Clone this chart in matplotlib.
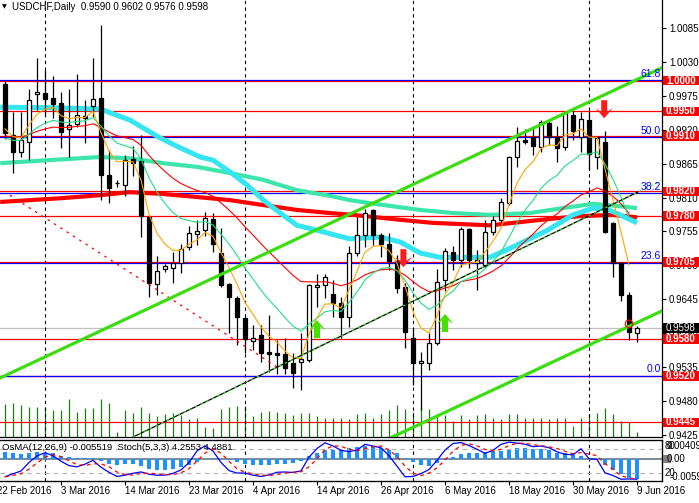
import matplotlib.pyplot as plt
import numpy as np
from matplotlib.patches import Polygon, Rectangle
from matplotlib.transforms import blended_transform_factory

plt.rcParams['font.family'] = ['Liberation Sans', 'DejaVu Sans']

symbol = "USDCHF,Daily"

# daily bars, 23 Feb 2016 .. 9 Jun 2016 (bar 0 .. 79)
opens = [0.9994, 0.9912, 0.9884, 0.9900, 0.9978, 0.9980, 0.9972, 0.9964, 0.9921, 0.9930,
         0.9942, 0.9959, 0.9972, 0.9847, 0.9834, 0.9830, 0.9873, 0.9869, 0.9778, 0.9670,
         0.9694, 0.9696, 0.9704, 0.9730, 0.9751, 0.9757, 0.9775, 0.9720, 0.9670, 0.9647,
         0.9614, 0.9577, 0.9587, 0.9559, 0.9557, 0.9556, 0.9541, 0.9543, 0.9546, 0.9665,
         0.9668, 0.9653, 0.9639, 0.9616, 0.9720, 0.9749, 0.9790, 0.9749, 0.9735, 0.9707,
         0.9665, 0.9582, 0.9542, 0.9541, 0.9574, 0.9676, 0.9722, 0.9709, 0.9759, 0.9704,
         0.9700, 0.9754, 0.9774, 0.9801, 0.9876, 0.9904, 0.9908, 0.9892, 0.9931, 0.9908,
         0.9892, 0.9944, 0.9908, 0.9936, 0.9876, 0.9900, 0.9769, 0.9704, 0.9652, 0.9590]
highs = [0.9999, 0.9949, 0.9949, 0.9986, 1.0037, 1.0017, 1.0008, 0.9982, 0.9986, 1.0011,
         0.9969, 1.0037, 1.0090, 0.9887, 0.9839, 0.9879, 0.9894, 0.9912, 0.9782, 0.9715,
         0.9703, 0.9722, 0.9735, 0.9764, 0.9774, 0.9787, 0.9785, 0.9761, 0.9671, 0.9650,
         0.9616, 0.9603, 0.9603, 0.9619, 0.9579, 0.9582, 0.9557, 0.9590, 0.9670, 0.9686,
         0.9686, 0.9676, 0.9648, 0.9731, 0.9778, 0.9791, 0.9791, 0.9752, 0.9752, 0.9717,
         0.9671, 0.9598, 0.9559, 0.9590, 0.9694, 0.9728, 0.9731, 0.9762, 0.9761, 0.9725,
         0.9774, 0.9780, 0.9809, 0.9878, 0.9925, 0.9921, 0.9925, 0.9936, 0.9936, 0.9926,
         0.9949, 0.9951, 0.9949, 0.9951, 0.9908, 0.9918, 0.9770, 0.9705, 0.9657, 0.9602]
lows = [0.9905, 0.9850, 0.9876, 0.9871, 0.9952, 0.9944, 0.9939, 0.9891, 0.9876, 0.9925,
        0.9899, 0.9941, 0.9806, 0.9801, 0.9827, 0.9813, 0.9845, 0.9746, 0.9648, 0.9652,
        0.9689, 0.9671, 0.9687, 0.9725, 0.9733, 0.9748, 0.9722, 0.9665, 0.9590, 0.9570,
        0.9557, 0.9562, 0.9543, 0.9527, 0.9523, 0.9523, 0.9501, 0.9497, 0.9543, 0.9632,
        0.9647, 0.9616, 0.9582, 0.9600, 0.9715, 0.9730, 0.9733, 0.9713, 0.9692, 0.9655,
        0.9566, 0.9506, 0.9465, 0.9530, 0.9571, 0.9658, 0.9692, 0.9697, 0.9696, 0.9660,
        0.9697, 0.9749, 0.9770, 0.9798, 0.9860, 0.9897, 0.9879, 0.9884, 0.9895, 0.9868,
        0.9887, 0.9904, 0.9884, 0.9855, 0.9856, 0.9752, 0.9681, 0.9642, 0.9579, 0.9576]
closes = [0.9915, 0.9884, 0.9904, 0.9969, 0.9981, 0.9970, 0.9962, 0.9917, 0.9928, 0.9944,
          0.9940, 0.9970, 0.9847, 0.9826, 0.9833, 0.9871, 0.9866, 0.9780, 0.9671, 0.9691,
          0.9699, 0.9704, 0.9726, 0.9752, 0.9756, 0.9777, 0.9735, 0.9668, 0.9648, 0.9616,
          0.9580, 0.9582, 0.9558, 0.9556, 0.9555, 0.9533, 0.9525, 0.9548, 0.9668, 0.9668,
          0.9681, 0.9639, 0.9616, 0.9720, 0.9749, 0.9785, 0.9749, 0.9735, 0.9707, 0.9663,
          0.9592, 0.9541, 0.9545, 0.9574, 0.9673, 0.9723, 0.9709, 0.9759, 0.9709, 0.9709,
          0.9754, 0.9774, 0.9803, 0.9876, 0.9902, 0.9900, 0.9894, 0.9933, 0.9908, 0.9891,
          0.9947, 0.9918, 0.9938, 0.9881, 0.9907, 0.9754, 0.9704, 0.9652, 0.9592, 0.9598]
# tick volume (relative)
volumes = [33, 34, 32, 30, 30, 30, 27, 27, 38, 25, 29, 29, 38, 34, 5, 27, 24, 30, 24, 21,
           23, 24, 22, 18, 19, 10, 9, 28, 30, 31, 31, 21, 25, 26, 25, 24, 22, 24, 24, 21,
           19, 19, 19, 18, 23, 24, 19, 23, 27, 32, 28, 25, 30, 28, 23, 22, 16, 22, 18, 22,
           23, 19, 18, 23, 23, 19, 19, 19, 18, 19, 19, 11, 19, 23, 24, 29, 23, 16, 15, 5]

# moving averages drawn thick
cyan_i = [-0.6, 5.6, 11.9, 15.6, 19.4, 21.9, 24.4, 26, 28.1, 30.3, 32.3, 34.4, 36.5, 39,
          43.1, 46.9, 49.4, 51.9, 54.4, 60.6, 63.5, 67.8, 71, 73.5, 75.3, 76.9, 79]
cyan_p = [0.9957, 0.9956, 0.9954, 0.9936, 0.9907, 0.9891, 0.9876, 0.9871, 0.9852, 0.9830,
          0.9806, 0.9785, 0.9765, 0.9757, 0.9743, 0.9746, 0.9738, 0.9720, 0.9713, 0.9713,
          0.9730, 0.9757, 0.9782, 0.9793, 0.9791, 0.9782, 0.9769]
teal_i = [-0.6, 5.6, 11.9, 15.6, 19.75, 24, 28.1, 32.25, 36.5, 40.6, 43.1, 45.6, 51.9, 56,
          60.6, 65.6, 69.75, 73.5, 76.9, 79]
teal_p = [0.9866, 0.9871, 0.9876, 0.9874, 0.9866, 0.9860, 0.9850, 0.9839, 0.9822, 0.9813,
          0.9806, 0.9801, 0.9790, 0.9785, 0.9782, 0.9785, 0.9793, 0.9800, 0.9796, 0.9793]
redma_i = [-0.6, 6.9, 11.9, 15.6, 19.75, 24, 28.1, 32.25, 36.5, 40.6, 43.5, 49.4, 53.5,
           60.6, 63.5, 67.75, 71.9, 76, 79]
redma_p = [0.9803, 0.9809, 0.9814, 0.9819, 0.9816, 0.9811, 0.9806, 0.9798, 0.9790, 0.9785,
           0.9782, 0.9774, 0.9769, 0.9765, 0.9769, 0.9775, 0.9780, 0.9782, 0.9778]

date_pos = [-1, 7, 15, 23, 31, 39, 47, 55, 63, 71, 79]
date_labels = ['22 Feb 2016', '3 Mar 2016', '14 Mar 2016', '23 Mar 2016', '4 Apr 2016',
               '14 Apr 2016', '26 Apr 2016', '6 May 2016', '18 May 2016', '30 May 2016',
               '9 Jun 2016']
separators = [5, 30, 51, 73]

levels = [1.0000, 0.9950, 0.9910, 0.9820, 0.9780, 0.9705, 0.9580, 0.9520, 0.9445]
fib_levels = [1.0001, 0.9908, 0.9817, 0.9704, 0.9521]
fib_labels = ['61.8', '50.0', '38.2', '23.6', '0.0']
price_ticks = [1.0085, 1.0030, 0.9975, 0.9920, 0.9865, 0.9810, 0.9755, 0.9700,
               0.9645, 0.9590, 0.9535, 0.9480, 0.9425]

# drawn objects
chan_up_i, chan_up_p = [-0.625, 82.125], [0.9517, 1.0021]
chan_lo_i, chan_lo_p = [48.4, 82.125], [0.9421, 0.9626]
trend_i, trend_p = [16, 79.1, 82.125], [0.9421, 0.9819, 0.9838]
dotted_i, dotted_p = [0.6, 34], [0.9814, 0.9535]
down_i, down_p = [49.8, 74.9], [0.9697, 0.9939]
up_i, up_p = [39.0, 55.0], [0.9611, 0.9621]

# indicator seeds at the left edge of the window
ema_seeds = {5: 0.9925, 12: 0.9905, 26: 0.9910}
macd_before = -0.0025

osma_text = "OsMA(12,26,9) -0.005519  Stoch(5,3,3) 4.2553 4.4881"

W, H = 699, 503
XL = (-0.625, 82.125)
YL = (0.942112, 1.013111)
px_x = (XL[1] - XL[0]) / 662
px_y = (YL[1] - YL[0]) / 437

o, h, l, c = map(np.array, (opens, highs, lows, closes))
x = np.arange(len(c))
n = len(c)


def ema(vals, period, seed):
    a = 2.0 / (period + 1)
    out, v = [], seed
    for val in vals:
        v += a * (val - v)
        out.append(v)
    return np.array(out)


ema5 = ema(c, 5, ema_seeds[5])
ema12 = ema(c, 12, ema_seeds[12])
ema26 = ema(c, 26, ema_seeds[26])
macd = ema12 - ema26
macd_ext = np.concatenate([np.full(8, macd_before), macd])
signal = np.array([macd_ext[k:k + 9].mean() for k in range(n)])
osma = macd - signal

hh = np.array([h[max(0, k - 4):k + 1].max() for k in range(n)])
ll = np.array([l[max(0, k - 4):k + 1].min() for k in range(n)])
num, den = c - ll, hh - ll
stoch_k = np.array([100 * num[max(0, k - 2):k + 1].sum() / den[max(0, k - 2):k + 1].sum()
                    for k in range(n)])
stoch_d = np.array([stoch_k[max(0, k - 2):k + 1].mean() for k in range(n)])

fig = plt.figure(figsize=(W / 100, H / 100), dpi=100)
ax = fig.add_axes([0, (H - 437) / H, 662 / W, 437 / H])
axi = fig.add_axes([0, (H - 481) / H, 662 / W, 41 / H])

ax.set_xlim(*XL)
ax.set_ylim(*YL)
axi.set_xlim(*XL)

# volume at the bottom of the price window
vtr = blended_transform_factory(ax.transData, ax.transAxes)
ax.vlines(x, 0, np.array(volumes) / 437, color='#1f7a1a', lw=0.9, transform=vtr, zorder=1)

# horizontal levels
for p in levels:
    ax.axhline(p, color='red', lw=0.9, zorder=2)
ftr = blended_transform_factory(ax.transAxes, ax.transData)
for p, lab in zip(fib_levels, fib_labels):
    ax.axhline(p, color='blue', lw=0.9, zorder=2.1)
    ax.text(661 / 662, p + 1.5 * px_y, lab, transform=ftr,
            ha='right', va='bottom', color='blue', fontsize=7.5, zorder=9)
ax.axhline(closes[-1], color='#c0c0c0', lw=0.9, zorder=1.9)

# separators
for s in separators:
    ax.axvline(s, color='black', lw=0.8, ls=(0, (3, 3)), zorder=2)
    axi.axvline(s, color='black', lw=0.8, ls=(0, (3, 3)), zorder=2)

# slow moving averages
ax.plot(redma_i, redma_p, color='red', lw=3.0, zorder=3, solid_capstyle='butt')
ax.plot(teal_i, teal_p, color='#3ce6aa', lw=3.0, zorder=3, solid_capstyle='butt')
ax.plot(cyan_i, cyan_p, color='#35e6f2', lw=3.6, zorder=3, solid_capstyle='butt')

# candles
up = c >= o
lo = np.minimum(o, c)
bh = np.maximum(np.abs(c - o), 0.00004)
ax.vlines(x, l, h, color='black', lw=0.9, zorder=4)
ax.bar(x[up], bh[up], 0.55, bottom=lo[up], color='white', edgecolor='black', lw=0.9, zorder=5)
ax.bar(x[~up], bh[~up], 0.55, bottom=lo[~up], color='black', edgecolor='black', lw=0.9, zorder=5)

# fast moving averages
ax.plot(x[:-1], ema26[:-1], color='red', lw=0.8, zorder=6)
ax.plot(x[:-1], ema12[:-1], color='#22dd88', lw=0.8, zorder=6)
ax.plot(x[:-1], ema5[:-1], color='#ffa500', lw=0.8, zorder=6)

# trend lines and channel
ax.plot(dotted_i, dotted_p, color='red', lw=0.9, ls=(0, (2, 4)), zorder=7)
ax.plot(trend_i[:2], trend_p[:2], color='black', lw=0.9, zorder=7)
ax.plot(trend_i, trend_p, color='#33dd22', lw=0.9, ls=(0, (2, 3)), zorder=7.1)
ax.plot(chan_up_i, chan_up_p, color='#3ade10', lw=2.3, zorder=7)
ax.plot(chan_lo_i, chan_lo_p, color='#3ade10', lw=2.3, zorder=7)

# signal arrows
shape = [(0, 0), (8.5, 10), (3, 6.5), (3, 18), (-3, 18), (-3, 6.5), (-8.5, 10)]
for xi, p in zip(down_i, down_p):
    pts = [(xi + sx * px_x, p + sy * px_y) for sx, sy in shape]
    ax.add_patch(Polygon(pts, closed=True, fc='#ff1a1a', ec='none', zorder=8))
for xi, p in zip(up_i, up_p):
    pts = [(xi + sx * px_x, p - sy * px_y) for sx, sy in shape]
    ax.add_patch(Polygon(pts, closed=True, fc='#44e000', ec='none', zorder=8))
ax.scatter([78], [0.9605], s=30, facecolor='none', edgecolor='red', lw=0.8, zorder=8)

# axes look
for a in (ax, axi):
    a.spines['left'].set_visible(False)
    for sp in ('right', 'bottom', 'top'):
        a.spines[sp].set_linewidth(0.9)
ax.spines['top'].set_visible(False)
ax.set_xticks([])
ax.yaxis.tick_right()
ax.set_yticks(price_ticks)
ax.set_yticklabels([f'{t:.4f}' for t in price_ticks])
ax.tick_params(axis='y', length=3, width=0.8, labelsize=7, pad=2)

# price tags on the right
tag = blended_transform_factory(fig.transFigure, ax.transData)
for p in levels:
    ax.add_patch(Rectangle((663 / W, p - 4.8 * px_y), 36 / W, 9.6 * px_y, transform=tag,
                           fc='red', ec='none', clip_on=False, zorder=10))
    ax.text(666 / W, p, f'{p:.4f}', transform=tag, color='white', fontsize=7,
            fontweight='bold', va='center', zorder=11, clip_on=False)
ax.add_patch(Rectangle((663 / W, closes[-1] - 4.8 * px_y), 36 / W, 9.6 * px_y, transform=tag,
                       fc='black', ec='none', clip_on=False, zorder=10))
ax.text(666 / W, closes[-1], f'{closes[-1]:.4f}', transform=tag, color='white', fontsize=7,
        va='center', zorder=11, clip_on=False)

# indicator window
axi.set_ylim(-0.00597, 0.00516)
axi.bar(x, osma, 0.5, color='#1e90ff', zorder=3)
axi.axhline(0, color='#7a8a9a', lw=1.4, zorder=2)
axs = axi.twinx()
axs.set_ylim(0, 102.5)
axs.set_xlim(*XL)
axs.axhline(80, color='#b0b0b0', lw=0.8, ls=(0, (4, 4)))
axs.axhline(20, color='#b0b0b0', lw=0.8, ls=(0, (4, 4)))
axs.plot(x, stoch_k, color='blue', lw=0.9)
axs.plot(x, stoch_d, color='red', lw=0.9, ls=(0, (3, 3)))
for a in (axi, axs):
    a.set_yticks([])
    a.spines['left'].set_visible(False)
axs.set_xticks([])
axi.set_xticks([d for d in date_pos if d >= 0])
axi.set_xticklabels([])
axi.tick_params(axis='x', length=3, width=0.8)
dtr = blended_transform_factory(axi.transData, axi.transAxes)
for d, lab in zip(date_pos, date_labels):
    axi.text(d, -0.13, lab, transform=dtr, ha='left', va='top', fontsize=7, clip_on=False)

fig.text(2 / W, 1 - 448 / H, osma_text, fontsize=6.8, va='center')
fig.text(667 / W, 1 - 446 / H, '0.004096', fontsize=7, va='center')
fig.text(665 / W, 1 - 446 / H, '80', fontsize=7, va='center')
fig.patches.append(Rectangle((663 / W, 1 - 463 / H), 8 / W, 8 / H, transform=fig.transFigure,
                             fc='#808080', ec='none', figure=fig))
fig.text(667 / W, 1 - 459 / H, '0.00', fontsize=7, va='center')
fig.text(665 / W, 1 - 473 / H, '20', fontsize=7, va='center')
fig.text(670 / W, 1 - 477 / H, '-0.00597', fontsize=7, va='center')

# header
fig.text(2 / W, 1 - 7 / H, '\u25bc', fontsize=4.5, va='center', family='DejaVu Sans')
fig.text(12 / W, 1 - 7 / H, f'{symbol}  {o[-1]:.4f} {h[-1]:.4f} {l[-1]:.4f} {c[-1]:.4f}',
         fontsize=7, va='center')

fig.savefig('out.png', dpi=100)
